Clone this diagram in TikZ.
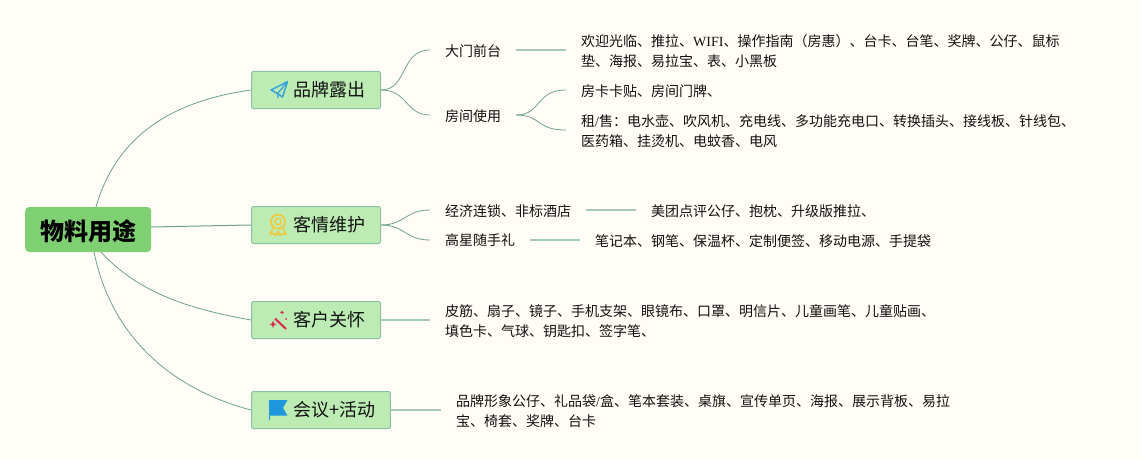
\documentclass[tikz,border=0pt]{standalone}
\usepackage{fontspec}
\setmainfont{Noto Sans CJK SC}
\newfontfamily\latserif{Liberation Serif}
\newcommand{\lat}[1]{{\latserif #1}}
\definecolor{bgc}{HTML}{FFFDF5}
\definecolor{rootfill}{HTML}{7FCF73}
\definecolor{branchfill}{HTML}{BCECB4}
\definecolor{branchline}{HTML}{8CBFA2}
\definecolor{linkc}{HTML}{6FA38E}
\definecolor{leaflink}{HTML}{A6CBB2}
\definecolor{planec}{HTML}{38A4D8}
\definecolor{medalc}{HTML}{F0C83A}
\definecolor{wandc}{HTML}{D92A50}
\definecolor{flagc}{HTML}{1E97DE}
\definecolor{inkc}{HTML}{111111}
\tikzset{
  rootbox/.style={rectangle,rounded corners=4pt,fill=rootfill,draw=none,minimum width=126pt,minimum height=45pt,inner sep=0pt,anchor=west,font=\fontsize{24}{28}\selectfont\bfseries,text=black},
  branchbox/.style={rectangle,rounded corners=2pt,fill=branchfill,draw=branchline,line width=1pt,minimum height=37pt,inner xsep=15pt,inner ysep=0pt,anchor=west,font=\fontsize{18}{22}\selectfont,text=inkc},
  leaftext/.style={inner xsep=15pt,inner ysep=0pt,anchor=west,align=left,font=\fontsize{14}{20}\selectfont,text=inkc},
  mainlink/.style={draw=linkc,line width=0.8pt},
  sublink/.style={draw=linkc,line width=0.8pt},
  leaflinkst/.style={draw=leaflink,line width=1.2pt}
}
\begin{document}
\begin{tikzpicture}[x=1pt,y=-1pt]
\useasboundingbox (0,0) rectangle (1141,460);
\fill[bgc] (0,0) rectangle (1141,460);

% nodes
\node[rootbox,text depth=-2pt] (root) at (25,229.5) {\raisebox{-1.5pt}{物料用途}};
\node[branchbox] (b1) at (251,90) {\hspace{27pt}\raisebox{-2pt}{品牌露出}};
\node[branchbox] (b2) at (251,225) {\hspace{27pt}\raisebox{-2pt}{客情维护}};
\node[branchbox] (b3) at (251,320) {\hspace{27pt}\raisebox{-2pt}{客户关怀}};
\node[branchbox] (b4) at (251,410) {\hspace{27pt}\raisebox{-2pt}{会议+活动}};

\node[leaftext] (m1) at (430,51) {大门前台};
\node[leaftext] (m2) at (430,116) {房间使用};
\node[leaftext] (m3) at (430,211) {经济连锁、非标酒店};
\node[leaftext] (m4) at (430,240.5) {高星随手礼};

\node[leaftext] (l1) at (566,51) {欢迎光临、推拉、\lat{WIFI}、操作指南（房惠）、台卡、台笔、奖牌、公仔、鼠标\\垫、海报、易拉宝、表、小黑板};
\node[leaftext] (l2) at (566,91) {房卡卡贴、房间门牌、};
\node[leaftext] (l3) at (566,131) {租\lat{/}售：电水壶、吹风机、充电线、多功能充电口、转换插头、接线板、针线包、\\医药箱、挂烫机、电蚊香、电风};
\node[leaftext] (l4) at (636,211) {美团点评公仔、抱枕、升级版推拉、};
\node[leaftext] (l5) at (580,241) {笔记本、钢笔、保温杯、定制便签、移动电源、手提袋};
\node[leaftext] (l6) at (430,321) {皮筋、扇子、镜子、手机支架、眼镜布、口罩、明信片、儿童画笔、儿童贴画、\\填色卡、气球、钥匙扣、签字笔、};
\node[leaftext] (l7) at (441,411) {品牌形象公仔、礼品袋\lat{/}盒、笔本套装、桌旗、宣传单页、海报、展示背板、易拉\\宝、椅套、奖牌、台卡};

% free ends of the connectors
\coordinate (r1) at (96,207);
\coordinate (r2) at (151,227);
\coordinate (r3) at (101,252);
\coordinate (r4) at (94,252);
\coordinate (e1) at (430,50);
\coordinate (e2) at (430,115);
\coordinate (e3) at (430,210);
\coordinate (e4) at (430,240);
\coordinate (f2) at (516,115);
\coordinate (g2) at (566,90);
\coordinate (g3) at (566,130);

% root connectors
\draw[mainlink] (r1) .. controls (118,130) and (180,100) .. (b1.west);
\draw[mainlink,line width=1pt] (r2) -- (b2.west);
\draw[mainlink] (r3) .. controls (140,295) and (195,310) .. (b3.west);
\draw[mainlink] (r4) .. controls (112,340) and (175,390) .. (b4.west);

% branch to second level
\draw[sublink] (b1.east) .. controls (408,90) and (400,50) .. (e1);
\draw[sublink] (b1.east) .. controls (408,90) and (405,115) .. (e2);
\draw[sublink] (b2.east) .. controls (405,225) and (405,210) .. (e3);
\draw[sublink] (b2.east) .. controls (405,225) and (405,240) .. (e4);
\draw[sublink] (f2) .. controls (542,115) and (535,90) .. (g2);
\draw[sublink] (f2) .. controls (542,115) and (535,130) .. (g3);

% straight leaf links
\draw[leaflinkst] (516,50) -- (566,50);
\draw[leaflinkst] (586,210) -- (636,210);
\draw[leaflinkst] (530,240) -- (580,240);
\draw[leaflinkst] (b3.east) -- (430,320);
\draw[leaflinkst] (b4.east) -- (441,410);

% paper plane icon
\draw[planec,line width=1.5pt,line join=round] (287.5,81.7) -- (271,90) -- (277.5,93.5) -- (282.5,97) -- cycle;
\draw[planec,line width=1.3pt,line join=round] (287.5,81.7) -- (277.5,93.5) -- (278,98);

% medal icon
\draw[medalc,line width=1.7pt] (278,221.5) circle (7);
\draw[medalc,line width=1.3pt] (278,221.5) circle (3.2);
\draw[medalc,line width=1.5pt,line join=round] (273,228) -- (270,234.5) -- (274,233.5) -- (276,235.5) -- (278,231) -- (280,235.5) -- (282,233.5) -- (286,234.5) -- (283,228);

% wand icon
\draw[wandc,line width=2pt] (275,318.5) -- (286,329);
\fill[wandc] (273,320.5) -- (274,323.3) -- (276.5,324.3) -- (274,325.3) -- (273,328) -- (272,325.3) -- (269.5,324.3) -- (272,323.3) -- cycle;
\fill[wandc] (282,310.5) -- (282.7,311.7) -- (284,312.4) -- (282.7,313.1) -- (282,314.3) -- (281.3,313.1) -- (280,312.4) -- (281.3,311.7) -- cycle;
\fill[wandc] (286,319) circle (1);

% flag icon
\fill[flagc] (269.5,400) -- (287.5,400) -- (283,407.8) -- (287.5,415.7) -- (269.5,415.7) -- cycle;
\draw[flagc,line width=0.8pt] (269.8,400) -- (269.8,420);
\end{tikzpicture}
\end{document}
